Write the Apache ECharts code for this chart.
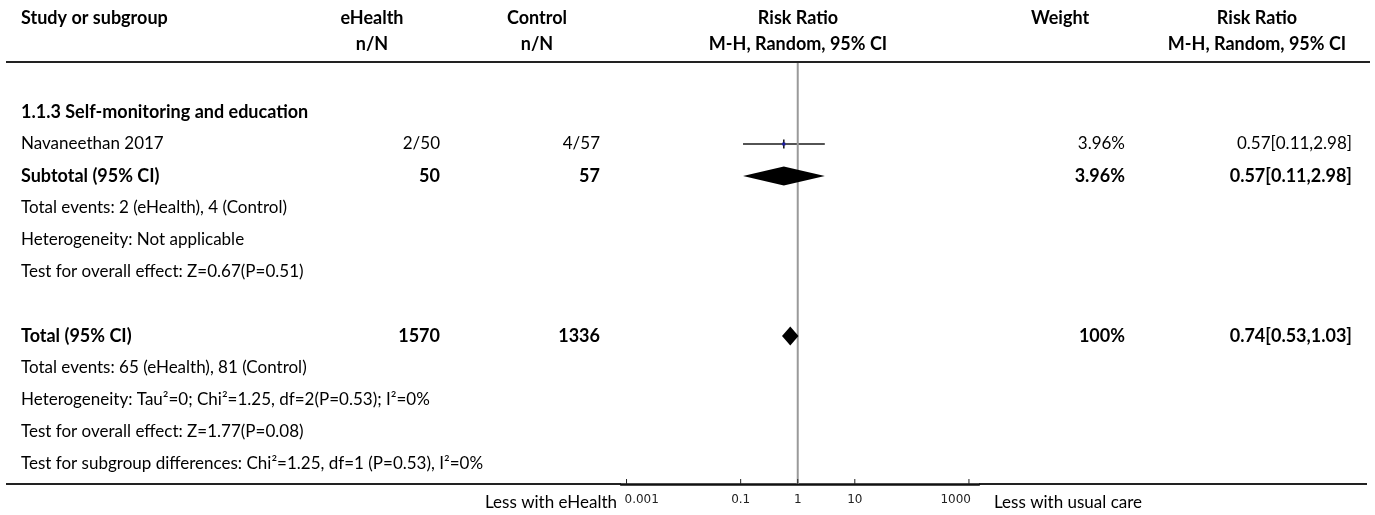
<!DOCTYPE html>
<html>
<head>
<meta charset="utf-8">
<script src="https://cdn.jsdelivr.net/npm/echarts@6/dist/echarts.min.js"></script>
<style>
  html, body { margin: 0; padding: 0; background: #fff; }
  #chart { width: 1375px; height: 515px; }
</style>
</head>
<body>
<div id="chart"></div>
<script>
// ---- Forest plot data ----
// Body rows, top to bottom (row index = position in this list)
const rowLabels = [
  '1.1.3 Self-monitoring and education',
  'Navaneethan 2017',
  'Subtotal (95% CI)',
  'Total events: 2 (eHealth), 4 (Control)',
  'Heterogeneity: Not applicable',
  'Test for overall effect: Z=0.67(P=0.51)',
  '',
  'Total (95% CI)',
  'Total events: 65 (eHealth), 81 (Control)',
  'Heterogeneity: Tau\u00b2=0; Chi\u00b2=1.25, df=2(P=0.53); I\u00b2=0%',
  'Test for overall effect: Z=1.77(P=0.08)',
  'Test for subgroup differences: Chi\u00b2=1.25, df=1 (P=0.53), I\u00b2=0%'
];
const boldRows = [0, 2, 7];
const eHealthCol = ['', '2/50', '50', '', '', '', '', '1570', '', '', '', ''];
const controlCol = ['', '4/57', '57', '', '', '', '', '1336', '', '', '', ''];

// Individual studies
const studyRows = [1];
const studyRR = [0.57];
const studyLo = [0.11];
const studyHi = [2.98];
const studyWeight = [3.96];

// Pooled estimates (diamonds)
const poolRows = [2, 7];
const poolRR = [0.57, 0.74];
const poolLo = [0.11, 0.53];
const poolHi = [2.98, 1.03];
const poolWeight = [3.96, 100];

// Risk-ratio axis
const tickValues = [0.001, 0.1, 1, 10, 1000];
const tickLabels = ['0.001', '0.1', '1', '10', '1000'];

// Header text
const headerTop = ['Study or subgroup', 'eHealth', 'Control', 'Risk Ratio', 'Weight', 'Risk Ratio'];
const headerSub = ['', 'n/N', 'n/N', 'M-H, Random, 95% CI', '', 'M-H, Random, 95% CI'];
const leftSideLabel = 'Less with eHealth';
const rightSideLabel = 'Less with usual care';

// ---- Layout ----
const FONT = 'Lato, "Noto Sans", sans-serif';
const TXT = '#000';
const SIZE = 17;
const BOLD_SIZE = 18;
const colX = { label: 21, eh: 440, ctl: 600, weight: 1125, rr: 1352 };
const headerX = [21, 372, 537, 798, 1060, 1257];
const headerAlign = ['left', 'center', 'center', 'center', 'center', 'center'];

const fmt = v => v.toFixed(2);
const rrText = (r, l, h) => fmt(r) + '[' + fmt(l) + ',' + fmt(h) + ']';
const wText = w => (Number.isInteger(w) ? String(w) : w.toFixed(2)) + '%';

// Right-hand columns (weight and RR text) per row, built from the numbers
const weightCol = rowLabels.map(() => '');
const rrCol = rowLabels.map(() => '');
studyRows.forEach((r, i) => {
  weightCol[r] = wText(studyWeight[i]);
  rrCol[r] = rrText(studyRR[i], studyLo[i], studyHi[i]);
});
poolRows.forEach((r, i) => {
  weightCol[r] = wText(poolWeight[i]);
  rrCol[r] = rrText(poolRR[i], poolLo[i], poolHi[i]);
});

function txt(text, x, y, align, bold) {
  return {
    type: 'text', x: x, y: y, silent: true,
    style: {
      text: text, fill: TXT, align: align, verticalAlign: 'middle',
      fontSize: bold ? BOLD_SIZE : SIZE, fontWeight: bold ? 'bold' : 'normal',
      fontFamily: FONT
    }
  };
}

const chart = echarts.init(document.getElementById('chart'));

const graphics = [];
headerTop.forEach((t, i) => graphics.push(txt(t, headerX[i], 18, headerAlign[i], true)));
headerSub.forEach((t, i) => { if (t) graphics.push(txt(t, headerX[i], 44, headerAlign[i], true)); });
// horizontal rules
graphics.push({ type: 'line', silent: true, shape: { x1: 6, y1: 62, x2: 1370, y2: 62 }, style: { stroke: '#222', lineWidth: 2 } });
graphics.push({ type: 'line', silent: true, shape: { x1: 6, y1: 484, x2: 621, y2: 484 }, style: { stroke: '#222', lineWidth: 2 } });
graphics.push({ type: 'line', silent: true, shape: { x1: 979, y1: 484, x2: 1367, y2: 484 }, style: { stroke: '#222', lineWidth: 2 } });
graphics.push(txt(leftSideLabel, 617, 503, 'right', false));
graphics.push(txt(rightSideLabel, 994, 503, 'left', false));

const option = {
  animation: false,
  backgroundColor: '#fff',
  grid: { left: 621, right: 396, top: 62, bottom: 31 },
  xAxis: {
    type: 'log', logBase: 10, min: 0.0008, max: 1500, position: 'bottom',
    axisLine: { show: true, onZero: false, lineStyle: { color: '#111', width: 2.5 } },
    axisTick: { show: false }, axisLabel: { show: false }, splitLine: { show: false }
  },
  yAxis: {
    type: 'value', inverse: true, min: -1.5625, max: 11.625, show: false
  },
  graphic: graphics,
  series: [
    // line of no effect
    {
      type: 'custom', z: 2, silent: true,
      data: [[1, 0]],
      renderItem: function (params, api) {
        const cs = params.coordSys;
        const x = api.coord([api.value(0), 0])[0];
        return { type: 'line', shape: { x1: x, y1: cs.y + 1, x2: x, y2: cs.y + cs.height },
                 style: { stroke: '#9a9a9a', lineWidth: 2 } };
      }
    },
    // axis ticks and labels
    {
      type: 'custom', z: 3, silent: true, clip: false,
      data: tickValues.map((v, i) => [v, 0, i]),
      renderItem: function (params, api) {
        const cs = params.coordSys;
        const x = api.coord([api.value(0), 0])[0];
        const yb = cs.y + cs.height;
        const i = api.value(2);
        const align = i === 0 ? 'left' : (i === tickValues.length - 1 ? 'right' : 'center');
        const lx = i === 0 ? x - 2 : (i === tickValues.length - 1 ? x + 2 : x);
        return { type: 'group', children: [
          { type: 'line', shape: { x1: x, y1: yb - 5, x2: x, y2: yb }, style: { stroke: '#222', lineWidth: 1 } },
          { type: 'text', x: lx, y: yb + 16, style: { text: tickLabels[i], fill: '#222', align: align,
            verticalAlign: 'middle', fontSize: 12, fontFamily: '"DejaVu Sans", sans-serif' } }
        ] };
      }
    },
    // study estimates with confidence intervals
    {
      type: 'custom', z: 1, silent: true,
      data: studyRows.map((r, i) => [studyRR[i], r, studyLo[i], studyHi[i], studyWeight[i]]),
      encode: { x: [0, 2, 3], y: 1 },
      renderItem: function (params, api) {
        const p = api.coord([api.value(0), api.value(1)]);
        const a = api.coord([api.value(2), api.value(1)]);
        const b = api.coord([api.value(3), api.value(1)]);
        const s = Math.max(3, Math.sqrt(api.value(4)) * 1.5);
        return { type: 'group', children: [
          { type: 'line', shape: { x1: a[0], y1: a[1], x2: b[0], y2: b[1] }, style: { stroke: '#1a1a1a', lineWidth: 1.5 } },
          { type: 'line', shape: { x1: p[0], y1: p[1] - 4.5, x2: p[0], y2: p[1] + 4.5 }, style: { stroke: '#111', lineWidth: 1.5 } },
          { type: 'rect', shape: { x: p[0] - s / 2, y: p[1] - s / 2, width: s, height: s }, style: { fill: '#1a1aa6' } }
        ] };
      }
    },
    // pooled diamonds
    {
      type: 'custom', z: 4, silent: true,
      data: poolRows.map((r, i) => [poolRR[i], r, poolLo[i], poolHi[i]]),
      encode: { x: [0, 2, 3], y: 1 },
      renderItem: function (params, api) {
        const p = api.coord([api.value(0), api.value(1)]);
        const a = api.coord([api.value(2), api.value(1)]);
        const b = api.coord([api.value(3), api.value(1)]);
        const h = 9.5;
        return { type: 'polygon', shape: { points: [[a[0], p[1]], [p[0], p[1] - h], [b[0], p[1]], [p[0], p[1] + h]] },
                 style: { fill: '#000' } };
      }
    },
    // table text rows
    {
      type: 'custom', z: 5, silent: true, clip: false,
      data: rowLabels.map((t, i) => [1, i]),
      renderItem: function (params, api) {
        const r = api.value(1);
        const y = api.coord([1, r])[1];
        const bold = boldRows.indexOf(r) >= 0;
        const kids = [];
        if (rowLabels[r]) kids.push(txt(rowLabels[r], colX.label, y, 'left', bold));
        if (eHealthCol[r]) kids.push(txt(eHealthCol[r], colX.eh, y, 'right', bold));
        if (controlCol[r]) kids.push(txt(controlCol[r], colX.ctl, y, 'right', bold));
        if (weightCol[r]) kids.push(txt(weightCol[r], colX.weight, y, 'right', bold));
        if (rrCol[r]) kids.push(txt(rrCol[r], colX.rr, y, 'right', bold));
        return { type: 'group', children: kids };
      }
    }
  ]
};
chart.setOption(option);
</script>
</body>
</html>
